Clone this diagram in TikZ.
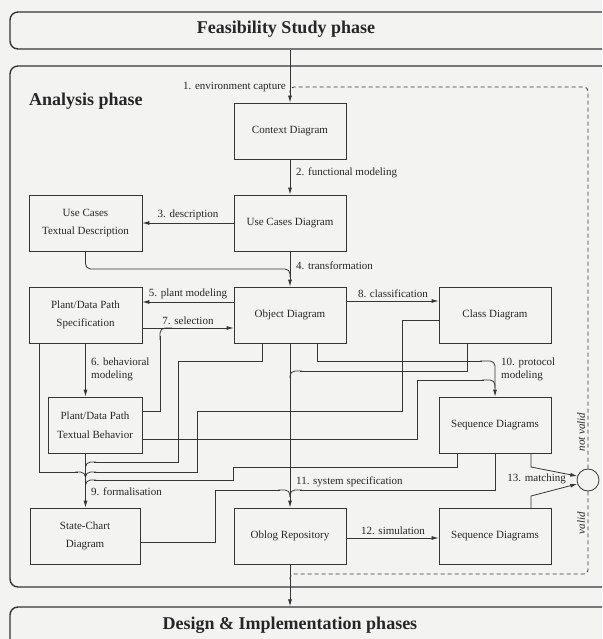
\documentclass[tikz,border=0pt]{standalone}
\usepackage{fontspec}
\setmainfont{Liberation Serif}
\usetikzlibrary{arrows.meta,calc}
\definecolor{ink}{HTML}{363636}
\definecolor{paper}{HTML}{F3F3F1}
\begin{document}
\begin{tikzpicture}[x=1pt,y=-1pt,
  box/.style={draw=ink,line width=0.8pt,minimum width=112pt,minimum height=56pt,inner sep=1pt,align=center,font=\fontsize{11}{18.5}\selectfont,text=black!85},
  phase/.style={draw=ink,line width=1.4pt,rounded corners=8pt,minimum width=605pt,inner sep=0pt},
  ptxt/.style={font=\bfseries\fontsize{18}{21}\selectfont,text=black!85,inner sep=0pt},
  lbl/.style={font=\fontsize{11}{13}\selectfont,inner sep=1pt,text=black!85},
  ar/.style={draw=ink,line width=0.8pt,-{Latex[length=7pt,width=4pt]}},
  ln/.style={draw=ink,line width=0.8pt},
  jn/.style={draw=ink,line width=0.8pt,rounded corners=5pt},
  dsh/.style={draw=ink,line width=0.8pt,dash pattern=on 4pt off 3pt},
]
\clip (0,0) rectangle (602,639);
\fill[paper] (0,0) rectangle (602,639);

% phase boxes
\node[phase,minimum height=37pt] (fs) at (312.5,30.5) {};
\node[ptxt] (fst) at (286,29) {Feasibility Study phase};
\node[phase,minimum height=521pt] (an) at (312.5,326.5) {};
\node[ptxt,anchor=west] (ant) at (29,101) {Analysis phase};
\node[phase,minimum height=45pt] (des) at (312.5,629.5) {};
\node[ptxt] (dest) at (290,625) {Design \& Implementation phases};

% boxes
\node[box] (ctx) at (290,131) {Context Diagram};
\node[box] (ucd) at (290,223) {Use Cases Diagram};
\node[box,minimum width=113pt] (uctd) at (85.5,223) {Use Cases\\Textual Description};
\node[box,minimum width=113pt] (pdps) at (85.5,315) {Plant/Data Path\\Specification};
\node[box] (od) at (290,315) {Object Diagram};
\node[box] (cd) at (495,315) {Class Diagram};
\node[box,minimum width=94pt] (pdtb) at (95,425) {Plant/Data Path\\Textual Behavior};
\node[box] (sd1) at (495,425) {Sequence Diagrams};
\node[box,minimum width=110pt] (sc) at (85,536) {State-Chart\\Diagram};
\node[box] (obl) at (290,536) {Oblog Repository};
\node[box] (sd2) at (495,536) {Sequence Diagrams};
\node[circle,draw=ink,line width=0.8pt,minimum size=22pt,inner sep=0pt] (circ) at (588,480) {};

% 1
\draw[ar] (fs.south -| ctx.north) -- (ctx.north);
\node[lbl,anchor=east] (l1) at (287,87) {1. environment capture};
\draw[dsh,rounded corners=4pt] (circ.north) |- (290,87) -- (290,93);
\draw[dsh,rounded corners=4pt] (circ.south) |- (290,574) -- (290,580);
\node[lbl,rotate=90,font=\itshape\fontsize{11}{13}\selectfont] (nv) at (581,432) {not valid};
\node[lbl,rotate=90,font=\itshape\fontsize{11}{13}\selectfont] (vv) at (581,523) {valid};

% 2
\draw[ar] (ctx) -- (ucd);
\node[lbl,anchor=west] (l2) at (295,173) {2. functional modeling};
% 3
\draw[ar] (ucd.west) -- (uctd.east);
\node[lbl,anchor=south] (l3) at (188,221) {3. description};
% 4
\draw[ar] (ucd) -- (od);
\node[lbl,anchor=west] (l4) at (295,266) {4. transformation};
\draw[jn] (uctd.south) |- (290,269) -- (290,277);
% 5
\draw[ar] (od.west |- 0,302) -- (pdps.east |- 0,302);
\node[lbl,anchor=south] (l5) at (188,300) {5. plant modeling};
% 7
\draw[ar] (pdps.east |- 0,328) -- (od.west |- 0,328);
\node[lbl,anchor=south] (l7) at (188,326) {7. selection};
\draw[ln] (pdtb.east |- 0,411) -- (160,411) -- (160,336);
\draw[jn] (160,340) -- (160,328) -- (172,328);
% 8
\draw[ar] (od.east |- 0,301) -- (cd.west |- 0,301);
\node[lbl,anchor=south] (l8) at (393,299) {8. classification};
% 6
\draw[ar] (pdps.south) -- (pdps.south |- pdtb.north);
\node[lbl,anchor=north west,align=left] (l6) at (90,357) {6. behavioral\\modeling};
% 9
\draw[ar] (pdps.south |- pdtb.south) -- (pdps.south |- sc.north);
\node[lbl,anchor=west] (l9) at (90,492) {9. formalisation};
\draw[ln] (39,343) -- (39,472) -- (78,472);
\draw[jn] (75,472) -- (85.5,472) -- (85.5,479);
\draw[ln] (cd.west |- 0,320) -- (402,320) -- (402,411) -- (197,411) -- (197,472) -- (94,472);
\draw[jn] (96,472) -- (85.5,472) -- (85.5,479);
\draw[ln] (262,343) -- (262,361) -- (178,361) -- (178,462) -- (94,462);
\draw[jn] (96,462) -- (85.5,462) -- (85.5,469);
\draw[ln] (457,453) -- (457,467) -- (233,467) -- (233,480) -- (94,480);
\draw[jn] (96,480) -- (85.5,480) -- (85.5,487);
% 10
\draw[ln] (317,343) -- (317,361) -- (482,361);
\draw[ar,rounded corners=5pt] (480,361) -- (495,361) -- (sd1.north);
\draw[ln] (pdtb.east |- 0,439) -- (417,439) -- (417,380) -- (484,380);
\draw[jn] (482,380) -- (495,380) -- (495,388);
\node[lbl,anchor=north west,align=left] (l10) at (500,357) {10. protocol\\modeling};
% 11
\draw[ar] (od) -- (obl);
\node[lbl,anchor=west] (l11) at (295,482) {11. system specification};
\draw[ln] (467,343) -- (467,371) -- (300,371);
\draw[jn] (302,371) -- (290,371) -- (290,378);
\draw[ln] (495,453) -- (495,490) -- (300,490);
\draw[jn] (302,490) -- (290,490) -- (290,497);
\draw[ln] (sc.east |- 0,542) -- (215,542) -- (215,490) -- (280,490);
\draw[jn] (278,490) -- (290,490) -- (290,497);
% 12
\draw[ar] (obl.east |- 0,538) -- (sd2.west |- 0,538);
\node[lbl,anchor=south] (l12) at (393,536) {12. simulation};
% 13
\draw[ar] (531,453) -- (531,467) -- (circ.160);
\draw[ar] (531,508) -- (531,496) -- (circ.200);
\node[lbl,anchor=east] (l13) at (567,479) {13. matching};
% to design
\draw[ar] (obl.south) -- (obl.south |- des.north);
\end{tikzpicture}
\end{document}
